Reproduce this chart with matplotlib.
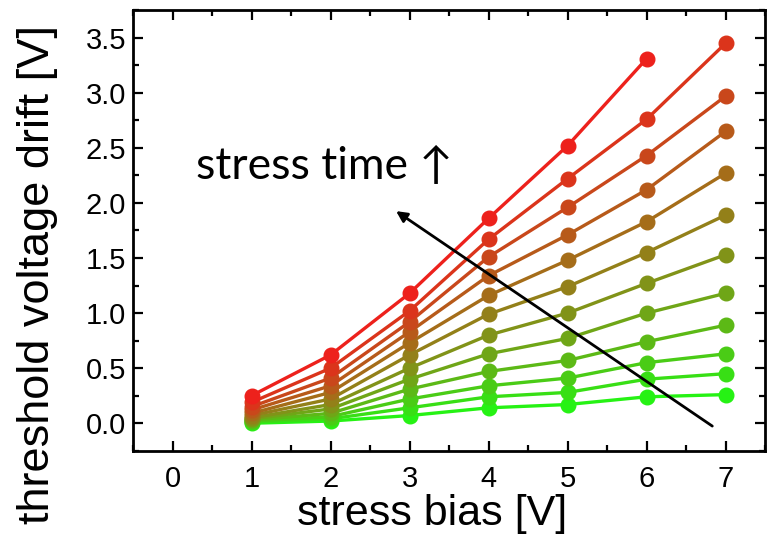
import numpy as np
import matplotlib
matplotlib.use("Agg")
import matplotlib.pyplot as plt
from matplotlib.ticker import MultipleLocator

# stress bias [V]
bias = [1, 2, 3, 4, 5, 6, 7]

# threshold voltage drift [V], one list per stress time (shortest -> longest)
drift = [
    [0.00, 0.02, 0.07, 0.14, 0.17, 0.24, 0.26],
    [0.01, 0.04, 0.14, 0.24, 0.28, 0.40, 0.45],
    [0.02, 0.06, 0.22, 0.34, 0.41, 0.55, 0.63],
    [0.03, 0.09, 0.31, 0.47, 0.57, 0.74, 0.89],
    [0.04, 0.13, 0.40, 0.63, 0.77, 1.00, 1.18],
    [0.05, 0.17, 0.50, 0.80, 1.00, 1.27, 1.53],
    [0.07, 0.22, 0.62, 0.99, 1.24, 1.55, 1.89],
    [0.09, 0.28, 0.73, 1.16, 1.48, 1.83, 2.27],
    [0.12, 0.34, 0.83, 1.34, 1.71, 2.12, 2.65],
    [0.15, 0.41, 0.92, 1.51, 1.96, 2.43, 2.97],
    [0.19, 0.50, 1.02, 1.67, 2.22, 2.76, 3.45],
    [0.25, 0.62, 1.18, 1.86, 2.52, 3.31],
]

green = np.array([0.15, 0.95, 0.08])
red = np.array([0.93, 0.13, 0.11])

plt.rcParams["font.family"] = ["Liberation Sans", "DejaVu Sans"]

fig = plt.figure(figsize=(7.69, 5.36), dpi=100)
ax = fig.add_axes([0.173, 0.159, 0.822, 0.822])

n = len(drift)
for i, ys in enumerate(drift):
    c = green + (red - green) * i / (n - 1)
    ax.plot(bias[: len(ys)], ys, "-o", color=c, lw=2.4, ms=10.5, mec=c, zorder=2 + i * 0.01)

ax.annotate("", xy=(2.8, 1.94), xytext=(6.86, -0.04),
            arrowprops=dict(arrowstyle="-|>", color="black", lw=2.0, mutation_scale=16))
ax.text(0.3, 2.33, "stress time \u2191", fontsize=32, va="center", ha="left",
        family=["Lato", "DejaVu Sans"])

ax.set_xlim(-0.5, 7.5)
ax.set_ylim(-0.25, 3.75)
ax.xaxis.set_major_locator(MultipleLocator(1))
ax.xaxis.set_minor_locator(MultipleLocator(0.5))
ax.yaxis.set_minor_locator(MultipleLocator(0.25))
ax.tick_params(which="both", direction="in", top=True, right=True, width=1.6)
ax.tick_params(which="major", length=7)
ax.tick_params(which="minor", length=4)
ax.tick_params(axis="x", labelsize=21, pad=10)
ax.tick_params(axis="y", labelsize=21, pad=5)
yt = np.arange(0, 3.6, 0.5)
ax.set_yticks(yt)
ax.set_yticklabels([f"{v:.1f}" for v in yt])
for s in ax.spines.values():
    s.set_linewidth(2.0)

ax.set_xlabel("stress bias [V]", fontsize=31)
ax.xaxis.set_label_coords(0.473, -0.097)
ax.set_ylabel("threshold voltage drift [V]", fontsize=32.5)
ax.yaxis.set_label_coords(-0.118, 0.40)

fig.savefig("out.png", dpi=100)
